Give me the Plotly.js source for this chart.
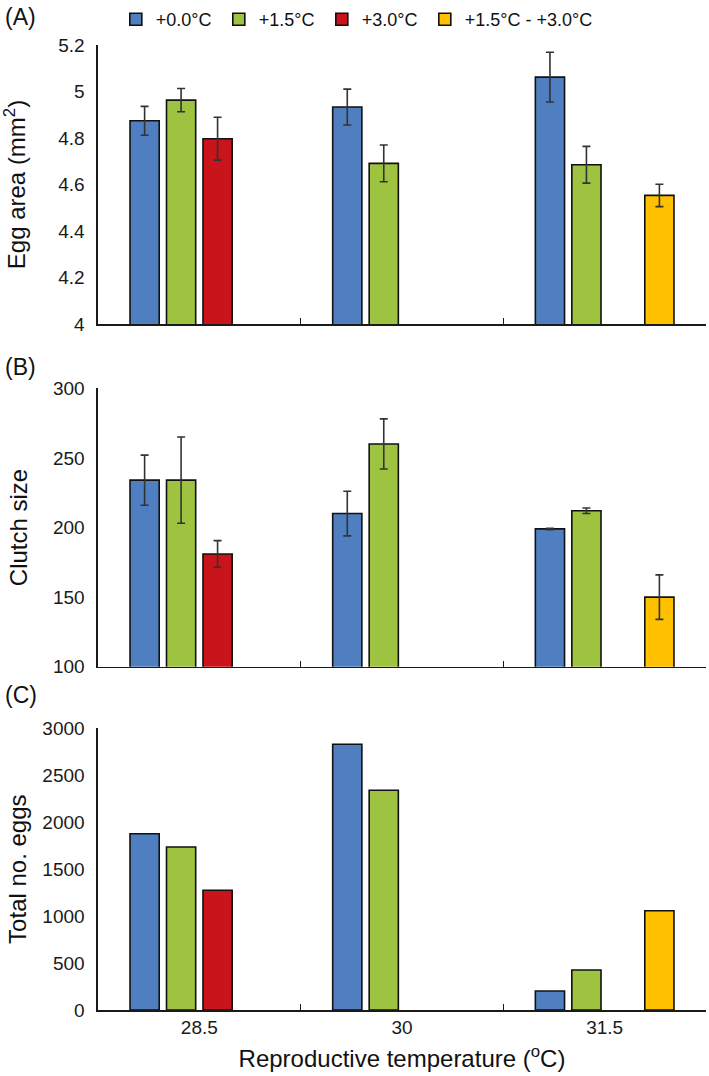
<!DOCTYPE html>
<html>
<head>
<meta charset="utf-8">
<script src="https://cdn.plot.ly/plotly-3.0.1.min.js"></script>
<style>html,body{margin:0;padding:0;background:#fff;}#chart{width:709px;height:1076px;}</style>
</head>
<body>
<div id="chart"></div>
<script>
const categories = ['28.5', '30', '31.5'];
const seriesNames = ['+0.0°C', '+1.5°C', '+3.0°C', '+1.5°C - +3.0°C'];
const seriesColors = ['#4F7FC0', '#9DC340', '#C8141A', '#FFC000'];

// Panel A: Egg area (mm2)
const eggArea = [
  [4.874, 4.933, 5.062],
  [4.963, 4.691, 4.685],
  [4.797, null, null],
  [null, null, 4.553]
];
const eggAreaErr = [
  [0.062, 0.077, 0.107],
  [0.050, 0.079, 0.079],
  [0.092, 0, 0],
  [0, 0, 0.048]
];

// Panel B: Clutch size
const clutch = [
  [234, 210, 199],
  [234, 260, 212],
  [181, null, null],
  [null, null, 150]
];
const clutchErr = [
  [18, 16, 0.5],
  [31, 18, 2],
  [9.6, 0, 0],
  [0, 0, 16]
];

// Panel C: Total no. eggs
const totalEggs = [
  [1877, 2830, 202],
  [1736, 2340, 426],
  [1275, null, null],
  [null, null, 1057]
];

const traces = [];
function addPanel(values, errs, xa, ya, showLegend) {
  for (let i = 0; i < seriesNames.length; i++) {
    const t = {
      type: 'bar',
      name: seriesNames[i],
      x: categories,
      y: values[i],
      xaxis: xa,
      yaxis: ya,
      legendgroup: 's' + i,
      showlegend: showLegend,
      marker: {color: seriesColors[i], line: {color: '#111', width: 1.6}},
      hoverinfo: 'x+y'
    };
    if (i === seriesNames.length - 1) t.legendwidth = 160;
    if (errs) {
      t.error_y = {type: 'data', array: errs[i], visible: true, color: '#333', thickness: 1.6, width: 4};
    }
    traces.push(t);
  }
}
addPanel(eggArea, eggAreaErr, 'x', 'y', true);
addPanel(clutch, clutchErr, 'x2', 'y2', false);
addPanel(totalEggs, null, 'x3', 'y3', false);

const FONT = 'Liberation Sans, Arial, sans-serif';
function xAxis(anchor, showLabels) {
  return {
    anchor: anchor,
    domain: [0, 1],
    type: 'category',
    showline: true,
    linecolor: '#1a1a1a',
    linewidth: 1.6,
    ticks: 'inside',
    tickson: 'boundaries',
    ticklen: 6,
    tickwidth: 1.6,
    tickcolor: '#1a1a1a',
    showgrid: false,
    zeroline: false,
    showticklabels: showLabels,
    tickfont: {family: FONT, size: 19, color: '#1a1a1a'}
  };
}
function yAxis(anchor, domain, range, dtick, title, standoff) {
  return {
    anchor: anchor,
    domain: domain,
    range: range,
    dtick: dtick,
    tick0: range[0],
    showline: true,
    linecolor: '#1a1a1a',
    linewidth: 1.6,
    ticks: '',
    showgrid: false,
    zeroline: false,
    ticklabelstandoff: 8,
    tickfont: {family: FONT, size: 19, color: '#1a1a1a'},
    title: {text: title, font: {family: FONT, size: 24, color: '#111'}, standoff: standoff}
  };
}

const layout = {
  width: 709,
  height: 1076,
  margin: {l: 98, r: 3, t: 45, b: 66},
  paper_bgcolor: '#fff',
  plot_bgcolor: '#fff',
  barmode: 'group',
  bargap: 0.28,
  bargroupgap: 0.2,
  font: {family: FONT, color: '#111'},
  showlegend: true,
  legend: {
    orientation: 'h',
    x: 0.452,
    xanchor: 'center',
    yref: 'container',
    y: 0.999,
    yanchor: 'top',
    entrywidth: 58,
    font: {family: FONT, size: 18, color: '#111'},
    bgcolor: 'rgba(0,0,0,0)',
    traceorder: 'normal'
  },
  xaxis: xAxis('y', false),
  xaxis2: xAxis('y2', false),
  xaxis3: Object.assign(xAxis('y3', true), {
    title: {text: 'Reproductive temperature (<sup>o</sup>C)', font: {family: FONT, size: 24, color: '#111'}, standoff: 13}
  }),
  yaxis: yAxis('x', [0.7109, 1.0], [4, 5.2], 0.2, 'Egg area (mm<sup>2</sup>)', 26),
  yaxis2: yAxis('x2', [0.3557, 0.6443], [100, 300], 50, 'Clutch size', 18),
  yaxis3: yAxis('x3', [0, 0.2919], [0, 3000], 500, 'Total no. eggs', 9),
  annotations: [
    {text: '(A)', xref: 'paper', yref: 'paper', x: -0.157, y: 1.029, xanchor: 'left', yanchor: 'middle', showarrow: false, font: {family: FONT, size: 23, color: '#111'}},
    {text: '(B)', xref: 'paper', yref: 'paper', x: -0.157, y: 0.666, xanchor: 'left', yanchor: 'middle', showarrow: false, font: {family: FONT, size: 23, color: '#111'}},
    {text: '(C)', xref: 'paper', yref: 'paper', x: -0.157, y: 0.3264, xanchor: 'left', yanchor: 'middle', showarrow: false, font: {family: FONT, size: 23, color: '#111'}}
  ]
};

Plotly.newPlot('chart', traces, layout, {displayModeBar: false, staticPlot: true});
</script>
</body>
</html>
